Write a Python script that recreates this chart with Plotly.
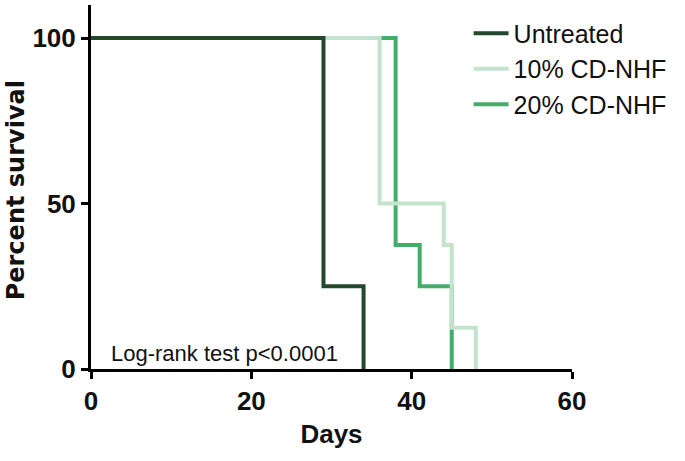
import plotly.graph_objects as go

# Kaplan-Meier step data (days, percent survival)
untreated_days = [0, 29, 34]
untreated_surv = [100, 25, 0]

cd10_days = [0, 36, 44, 45, 48]
cd10_surv = [100, 50, 37.5, 12.5, 0]

cd20_days = [0, 38, 41, 45]
cd20_surv = [100, 37.5, 25, 0]

names = ["Untreated", "10% CD-NHF", "20% CD-NHF"]
colors = ["#24482b", "#c3e3cd", "#43ad69"]

x_ticks = [0, 20, 40, 60]
y_ticks = [0, 50, 100]

series = [(untreated_days, untreated_surv), (cd10_days, cd10_surv), (cd20_days, cd20_surv)]

fig = go.Figure()
# draw order: 20% bottom, 10% middle, untreated on top; legend keeps original order
for i in [2, 1, 0]:
    d, s = series[i]
    fig.add_trace(go.Scatter(
        x=d, y=s, mode="lines", name=names[i],
        line=dict(color=colors[i], width=4, shape="hv"),
        legendrank=i + 1,
    ))

fig.add_annotation(x=2.2, y=0, xref="x", yref="y", text="Log-rank test p<0.0001",
                   showarrow=False, xanchor="left", yanchor="bottom", yshift=1,
                   font=dict(family="Liberation Sans, Arial", size=22, color="#111"))

fig.add_annotation(x=0, y=54, xref="paper", yref="y", text="<b>Percent survival</b>",
                   showarrow=False, xanchor="center", yanchor="middle", xshift=-75,
                   textangle=-90,
                   font=dict(family="DejaVu Sans", size=24, color="#111"))

tickfont = dict(size=26, family="Liberation Sans, Arial", color="#111", weight="bold")

fig.update_layout(
    width=685, height=461,
    margin=dict(l=91, r=113, t=5, b=92),
    paper_bgcolor="white", plot_bgcolor="white",
    font=dict(family="Liberation Sans, Arial", color="#111"),
    showlegend=True,
    legend=dict(x=0.785, y=0.985, xanchor="left", yanchor="top",
                font=dict(size=25, family="Liberation Sans, Arial", color="#111"),
                bgcolor="rgba(0,0,0,0)", itemwidth=35, tracegroupgap=0),
    xaxis=dict(range=[0, 60], tickvals=x_ticks, showgrid=False, zeroline=False,
               showline=True, linecolor="black", linewidth=3,
               ticks="outside", ticklen=7, tickwidth=3, tickcolor="black",
               tickfont=tickfont, automargin=False,
               title=dict(text="<b>Days</b>", font=dict(size=26, color="#111"), standoff=10)),
    yaxis=dict(range=[0, 110], tickvals=y_ticks, showgrid=False, zeroline=False,
               showline=True, linecolor="black", linewidth=3,
               ticks="outside", ticklen=7, tickwidth=3, tickcolor="black",
               tickfont=tickfont, automargin=False),
)

fig.write_html("out.html", config={"displayModeBar": False},
               post_script="document.body.style.margin='0';document.body.style.padding='0';")
